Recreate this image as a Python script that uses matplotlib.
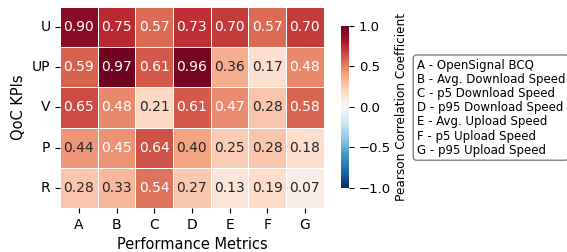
import numpy as np
import matplotlib
matplotlib.use("Agg")
import matplotlib.pyplot as plt
import seaborn as sns

# 데이터
kpis = ["U", "UP", "V", "P", "R"]
metrics = ["A", "B", "C", "D", "E", "F", "G"]
corr_u = [0.90, 0.75, 0.57, 0.73, 0.70, 0.57, 0.70]
corr_up = [0.59, 0.97, 0.61, 0.96, 0.36, 0.17, 0.48]
corr_v = [0.65, 0.48, 0.21, 0.61, 0.47, 0.28, 0.58]
corr_p = [0.44, 0.45, 0.64, 0.40, 0.25, 0.28, 0.18]
corr_r = [0.28, 0.33, 0.54, 0.27, 0.13, 0.19, 0.07]
legend_lines = ["A - OpenSignal BCQ", "B - Avg. Download Speed",
                "C - p5 Download Speed", "D - p95 Download Speed",
                "E - Avg. Upload Speed", "F - p5 Upload Speed",
                "G - p95 Upload Speed"]

data = np.array([corr_u, corr_up, corr_v, corr_p, corr_r])

fig = plt.figure(figsize=(5.67, 2.52), dpi=100)
ax = fig.add_axes([0.106, 0.175, 0.465, 0.797])
cax = fig.add_axes([0.601, 0.254, 0.015, 0.643])

sns.heatmap(data, ax=ax, cbar_ax=cax, annot=True, fmt=".2f", cmap="RdBu_r",
            vmin=-1, vmax=1, linewidths=0.7, linecolor="white",
            xticklabels=metrics, yticklabels=kpis,
            annot_kws={"fontsize": 10})
ax.tick_params(labelsize=10)
ax.set_yticklabels(kpis, rotation=0)
ax.set_xlabel("Performance Metrics", fontsize=10.5)
ax.set_ylabel("QoC KPIs", fontsize=10.5)

cax.tick_params(labelsize=9.5)
cax.set_ylabel("Pearson Correlation Coefficient", fontsize=8.7, labelpad=3)
for s in cax.spines.values():
    s.set_visible(False)

fig.text(0.735, 0.573, "\n".join(legend_lines), fontsize=8.5, va="center", ha="left",
         linespacing=1.12,
         bbox=dict(boxstyle="round,pad=0.3", facecolor="white", edgecolor="gray"))

fig.savefig("out.png", dpi=100)
